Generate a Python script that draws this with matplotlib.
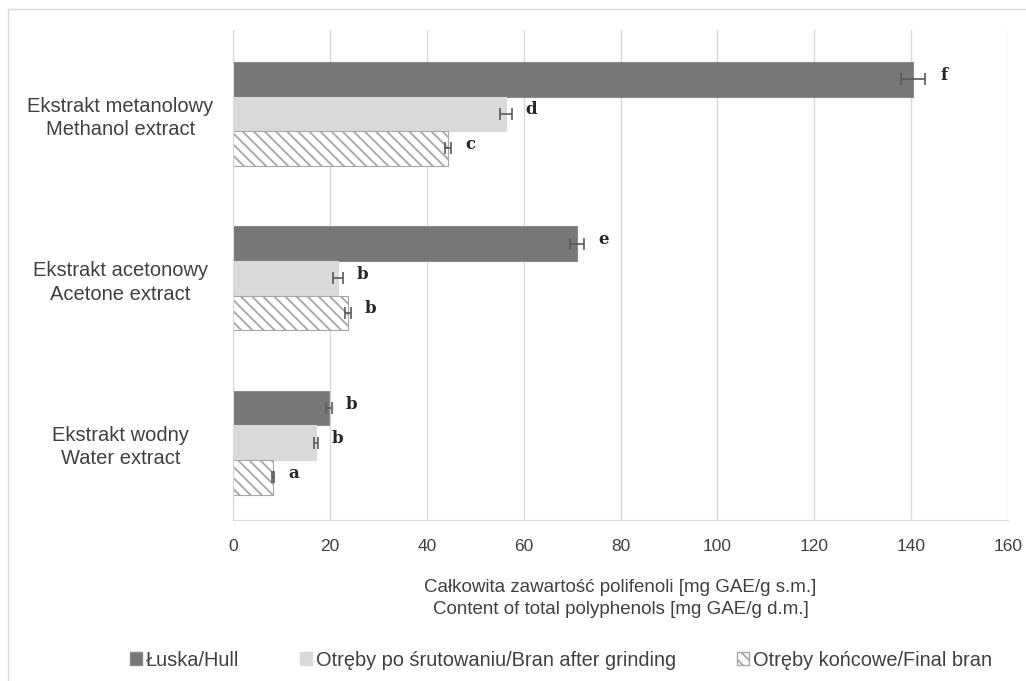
import matplotlib.pyplot as plt
from matplotlib.patches import Patch, Rectangle

plt.rcParams['font.family'] = ['Liberation Sans', 'DejaVu Sans']

categories = ['Ekstrakt metanolowy\nMethanol extract',
              'Ekstrakt acetonowy\nAcetone extract',
              'Ekstrakt wodny\nWater extract']
series = ['Łuska/Hull', 'Otręby po śrutowaniu/Bran after grinding', 'Otręby końcowe/Final bran']

hull = [140.4, 71.0, 19.8]
hull_err = [2.4, 1.4, 0.7]
bran = [56.4, 21.7, 17.1]
bran_err = [1.2, 1.0, 0.4]
final = [44.4, 23.7, 8.3]
final_err = [0.7, 0.6, 0.2]

letters_hull = ['f', 'e', 'b']
letters_bran = ['d', 'b', 'b']
letters_final = ['c', 'b', 'a']

fig = plt.figure(figsize=(10.26, 6.81), dpi=100)
ax = fig.add_axes([0.2271, 0.2364, 0.7554, 0.7196])

# chart area border (partly cropped in the original)
fig.patches.append(Rectangle((8 / 1026, -0.1), 1.2, 1 - 9 / 681 + 0.1, transform=fig.transFigure,
                             fill=False, edgecolor='#d9d9d9', linewidth=1.0))

h = 0.21
ypos = [0, 1, 2]
styles = [
    dict(color='#777777', edgecolor='#8a8a8a'),
    dict(color='#d9d9d9', edgecolor='#d9d9d9'),
    dict(color='white', edgecolor='#a6a6a6', hatch='\\\\\\'),
]
data = [(hull, hull_err, letters_hull), (bran, bran_err, letters_bran), (final, final_err, letters_final)]

plt.rcParams['hatch.color'] = '#7a7a7a'
plt.rcParams['hatch.linewidth'] = 1.3

for i, (vals, errs, lets) in enumerate(data):
    pos = [y + (i - 1) * h for y in ypos]
    ax.barh(pos, vals, height=h, linewidth=0.8, zorder=2, **styles[i])
    ax.errorbar(vals, pos, xerr=errs, fmt='none', ecolor='#595959', elinewidth=1.2,
                capsize=4, capthick=1.2, zorder=3)
    for v, e, p, l in zip(vals, errs, pos, lets):
        ax.annotate(l, (v + e, p), xytext=(14, 3), textcoords='offset points',
                    ha='center', va='center', fontsize=12, family='DejaVu Serif',
                    fontweight='bold', color='#262626')

ax.set_ylim(2.47, -0.51)
ax.set_yticks(ypos)
ax.set_yticklabels(categories, fontsize=14.5, color='#404040', ha='center', linespacing=1.3)
ax.tick_params(axis='y', length=0, pad=81)
ax.set_xlim(0, 160)
ax.set_xticks(range(0, 161, 20))
ax.tick_params(axis='x', length=0, labelsize=12.5, labelcolor='#404040', pad=14)
ax.grid(axis='x', color='#d9d9d9', linewidth=1.0, zorder=0)
for s in ['top', 'right']:
    ax.spines[s].set_visible(False)
ax.spines['left'].set_color('#d9d9d9')
ax.spines['bottom'].set_color('#d9d9d9')

ax.set_xlabel('Całkowita zawartość polifenoli [mg GAE/g s.m.]\nContent of total polyphenols [mg GAE/g d.m.]',
              fontsize=13.5, color='#404040', labelpad=18, linespacing=1.35)

handles = [Patch(facecolor=styles[i]['color'], edgecolor=styles[i]['edgecolor'],
                 hatch=styles[i].get('hatch')) for i in range(3)]
fig.legend(handles, series, loc='center', bbox_to_anchor=(561 / 1026, 1 - 660 / 681), ncol=3,
           frameon=False, fontsize=14.4, handlelength=0.6, handleheight=0.6,
           handletextpad=0.2, columnspacing=3.05, labelcolor='#404040')

fig.savefig('out.png', dpi=100)
